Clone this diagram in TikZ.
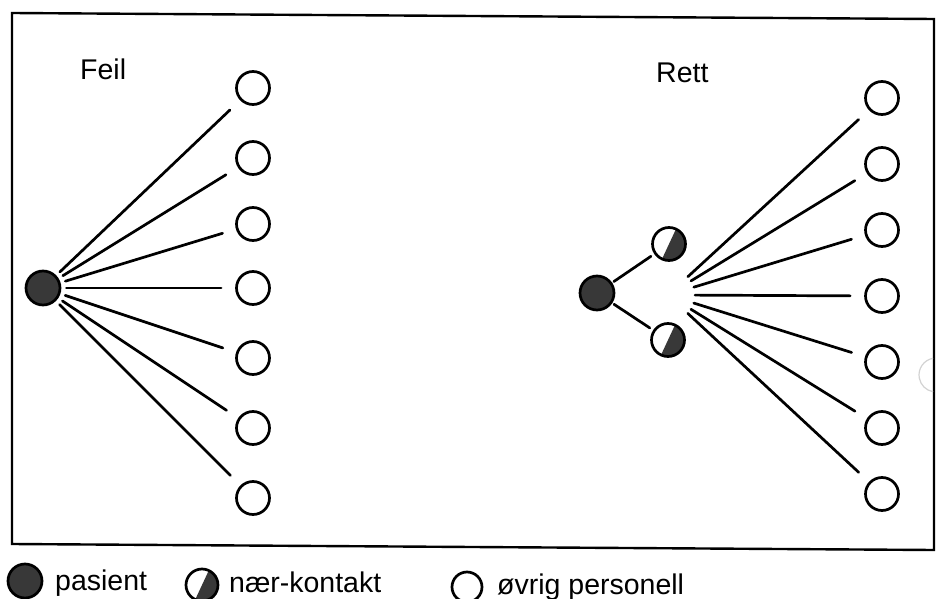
\documentclass[tikz,border=0pt]{standalone}
\usepackage{fontspec}
\setmainfont{Liberation Sans}
\definecolor{darkfill}{HTML}{383838}
\begin{document}
\begin{tikzpicture}[x=1pt,y=-1pt,
  every node/.style={font=\fontsize{28.5}{34}\selectfont},
  person/.style={circle,draw=black,line width=2.7pt,minimum size=33pt,inner sep=0pt},
  patient/.style={person,fill=darkfill,minimum size=34pt},
  contact/.style={person,path picture={\fill[darkfill] (path picture bounding box.center) ++(65:17pt) arc[start angle=65,end angle=-115,radius=17pt] -- cycle;}},
  link/.style={line width=2.7pt,line cap=round},
  label/.style={anchor=base west,inner sep=0pt}]
\useasboundingbox (0,0) rectangle (937,599);
% frame
\draw[line width=2.4pt] (12,13) -- (934,19) -- (934,550) -- (12,544) -- cycle;
\draw[gray!35,line width=1.2pt] (936,375) ++(100:17pt) arc[start angle=100,end angle=260,radius=17pt];
% titles
\node[label] (feil) at (80,80) {Feil};
\node[label] (rett) at (656,83) {Rett};
% left diagram
\node[patient] (s) at (43,288) {};
\foreach \i/\y in {1/88,2/158,3/224,4/288,5/358,6/428,7/498}{
  \node[person] (l\i) at (253,\y) {};
  \draw[link,shorten <=5pt,shorten >=14pt] (s) -- (l\i);
}
% right diagram
\node[patient] (p) at (597,293) {};
\node[contact] (h1) at (669,244) {};
\node[contact] (h2) at (668,340) {};
\draw[link,shorten <=2pt,shorten >=4pt] (p) -- (h1);
\draw[link,shorten <=2pt,shorten >=4pt] (p) -- (h2);
\coordinate (hub) at (668,295);
\foreach \i/\y in {1/98,2/164,3/230,4/296,5/362,6/428,7/494}{
  \node[person] (r\i) at (882,\y) {};
  \draw[link,shorten <=27pt,shorten >=14pt] (hub) -- (r\i);
}
% legend
\node[patient] (kp) at (25,581) {};
\node[label] (tp) at (55,590) {pasient};
\node[contact,minimum size=32pt] (kc) at (202,585) {};
\node[label] (tc) at (229,592) {nær-kontakt};
\node[person,minimum size=30pt] (ko) at (467,587) {};
\node[label] (to) at (497,594) {øvrig personell};
\end{tikzpicture}
\end{document}
